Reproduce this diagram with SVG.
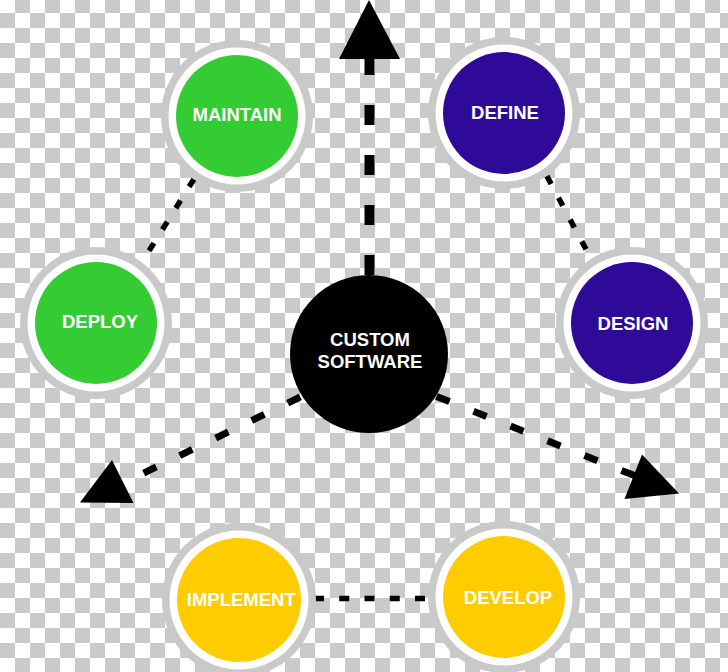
<svg xmlns="http://www.w3.org/2000/svg" width="728" height="672" viewBox="0 0 728 672">
  <defs>
    <pattern id="checker" x="0" y="-2" width="30" height="30" patternUnits="userSpaceOnUse">
      <rect x="0" y="0" width="30" height="30" fill="#ffffff"/>
      <rect x="15" y="0" width="15" height="15" fill="#cacaca"/>
      <rect x="0" y="15" width="15" height="15" fill="#cacaca"/>
    </pattern>
    <style>
      .ring { fill: #c9c9c9; }
      .halo { fill: #ffffff; }
      .green { fill: #33cc33; }
      .purple { fill: #2f0a98; }
      .yellow { fill: #ffcc00; }
      .label { font-family: "Liberation Sans", Arial, sans-serif; font-weight: bold; font-size: 18.5px; fill: #ffffff; text-anchor: middle; }
      .thick { fill: none; stroke: #000000; }
      .dot { fill: none; stroke: #000000; stroke-width: 5.5; }
      .head { fill: #000000; }
    </style>
  </defs>

  <rect x="0" y="0" width="728" height="672" fill="url(#checker)"/>

  <g id="connectors">
    <path class="thick" d="M369.5 55 L369.5 285" stroke-width="10" stroke-dasharray="20 30"/>
    <polygon class="head" points="369,0 339,59 400,59"/>
    <path class="thick" d="M300.3 396.9 L143.7 473.1" stroke-width="7" stroke-dasharray="14 26.03"/>
    <polygon class="head" points="112,460 80,502.5 133.5,503"/>
    <path class="thick" d="M436.5 396.4 L634.5 475.6" stroke-width="7" stroke-dasharray="14 25.85"/>
    <polygon class="head" points="642,454.5 679,493.5 624.5,499"/>
    <path class="dot" d="M193.9 179.2 L149.1 250.8" stroke-dasharray="9 16.15"/>
    <path class="dot" d="M546.9 176 L586.1 249.5" stroke-dasharray="9 15.7"/>
    <path class="dot" d="M314 598.5 L425 598.5" stroke-dasharray="10 15.25"/>
  </g>

  <g id="node-maintain">
    <circle class="ring" cx="237" cy="116" r="76"/>
    <circle class="halo" cx="237" cy="116" r="68.5"/>
    <circle class="green" cx="237" cy="116" r="61"/>
    <text class="label" x="237" y="120.6">MAINTAIN</text>
  </g>

  <g id="node-define">
    <circle class="ring" cx="504" cy="113" r="76"/>
    <circle class="halo" cx="504" cy="113" r="68.5"/>
    <circle class="purple" cx="504" cy="113" r="61"/>
    <text class="label" x="505" y="118.6">DEFINE</text>
  </g>

  <g id="node-deploy">
    <circle class="ring" cx="96" cy="323" r="76"/>
    <circle class="halo" cx="96" cy="323" r="68.5"/>
    <circle class="green" cx="96" cy="323" r="61"/>
    <text class="label" x="100" y="328.3">DEPLOY</text>
  </g>

  <g id="node-design">
    <circle class="ring" cx="632" cy="323" r="76"/>
    <circle class="halo" cx="632" cy="323" r="68.5"/>
    <circle class="purple" cx="632" cy="323" r="61"/>
    <text class="label" x="633" y="329.6">DESIGN</text>
  </g>

  <g id="node-custom-software">
    <circle cx="369" cy="354" r="79" fill="#000000"/>
    <text class="label" x="370" y="345.6">CUSTOM</text>
    <text class="label" x="370" y="367.6">SOFTWARE</text>
  </g>

  <g id="node-implement">
    <circle class="ring" cx="239" cy="600" r="77"/>
    <circle class="halo" cx="239" cy="600" r="69.5"/>
    <circle class="yellow" cx="239" cy="600" r="62"/>
    <text class="label" x="241.3" y="605.6">IMPLEMENT</text>
  </g>

  <g id="node-develop">
    <circle class="ring" cx="504" cy="597" r="76"/>
    <circle class="halo" cx="504" cy="597" r="68.5"/>
    <circle class="yellow" cx="504" cy="597" r="61"/>
    <text class="label" x="508" y="603.6">DEVELOP</text>
  </g>
</svg>
